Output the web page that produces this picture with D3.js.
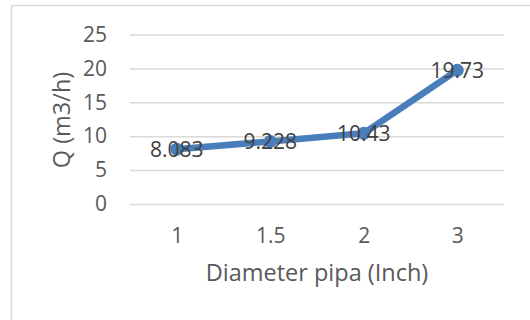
<!DOCTYPE html>
<html>
<head>
<meta charset="utf-8">
<script src="https://cdn.jsdelivr.net/npm/d3@7"></script>
<style>
  html, body { margin: 0; padding: 0; background: #fff; }
  svg { display: block; font-family: "Open Sans", "Noto Sans", sans-serif; }
</style>
</head>
<body>
<svg id="chart" width="530" height="320"></svg>
<script>
// Pipe diameter (inch) vs flow rate Q (m3/h)
const categories = ["1", "1.5", "2", "3"];
const flowValues = [8.083, 9.228, 10.43, 19.73];
const valueLabels = ["8.083", "9.228", "10.43", "19.73"];
const yTicks = [0, 5, 10, 15, 20, 25];

const svg = d3.select("#chart");
const W = 530, H = 320;

// chart frame
svg.append("path")
  .attr("d", `M11.5,${H + 2} V5.5 H${W + 2}`)
  .attr("fill", "none")
  .attr("stroke", "#d9d9d9")
  .attr("stroke-width", 1.5);

const plot = { left: 130, right: 504, top: 34.5, bottom: 204 };

const x = d3.scalePoint()
  .domain(categories)
  .range([plot.left, plot.right])
  .padding(0.5);

const y = d3.scaleLinear()
  .domain([0, 25])
  .range([plot.bottom, plot.top]);

// horizontal gridlines + y tick labels
const yAxis = d3.axisLeft(y).tickValues(yTicks).tickSize(-(plot.right - plot.left)).tickPadding(23);
const gy = svg.append("g").attr("transform", `translate(${plot.left},0)`).call(yAxis);
gy.select(".domain").remove();
gy.selectAll(".tick line").attr("stroke", "#d9d9d9").attr("stroke-width", 1.5);
gy.selectAll(".tick text")
  .attr("fill", "#595959")
  .attr("font-size", 21)
  .attr("font-family", "Open Sans, sans-serif");

// category labels
const xAxis = d3.axisBottom(x).tickSize(0).tickPadding(24);
const gx = svg.append("g").attr("transform", `translate(0,${plot.bottom})`).call(xAxis);
gx.select(".domain").remove();
gx.selectAll(".tick text")
  .attr("fill", "#595959")
  .attr("font-size", 21)
  .attr("font-family", "Open Sans, sans-serif");

// series line
const pts = categories.map((c, i) => ({ c, v: flowValues[i], label: valueLabels[i] }));
svg.append("path")
  .datum(pts)
  .attr("fill", "none")
  .attr("stroke", "#4a7ebb")
  .attr("stroke-width", 6.5)
  .attr("stroke-linejoin", "round")
  .attr("stroke-linecap", "round")
  .attr("d", d3.line().x(d => x(d.c)).y(d => y(d.v)));

svg.append("g").selectAll("circle")
  .data(pts)
  .join("circle")
  .attr("cx", d => x(d.c))
  .attr("cy", d => y(d.v))
  .attr("r", 6.5)
  .attr("fill", "#4a7ebb");

// value labels centred on the markers
svg.append("g").selectAll("text")
  .data(pts)
  .join("text")
  .attr("x", d => x(d.c))
  .attr("y", d => y(d.v))
  .attr("dy", "0.38em")
  .attr("text-anchor", "middle")
  .attr("fill", "#404040")
  .attr("font-size", 21)
  .text(d => d.label);

// axis titles
svg.append("text")
  .attr("x", 317)
  .attr("y", 281)
  .attr("text-anchor", "middle")
  .attr("fill", "#595959")
  .attr("font-size", 23.5)
  .text("Diameter pipa (Inch)");

svg.append("text")
  .attr("transform", "translate(70,120) rotate(-90)")
  .attr("text-anchor", "middle")
  .attr("fill", "#595959")
  .attr("font-size", 23.5)
  .text("Q (m3/h)");
</script>
</body>
</html>
